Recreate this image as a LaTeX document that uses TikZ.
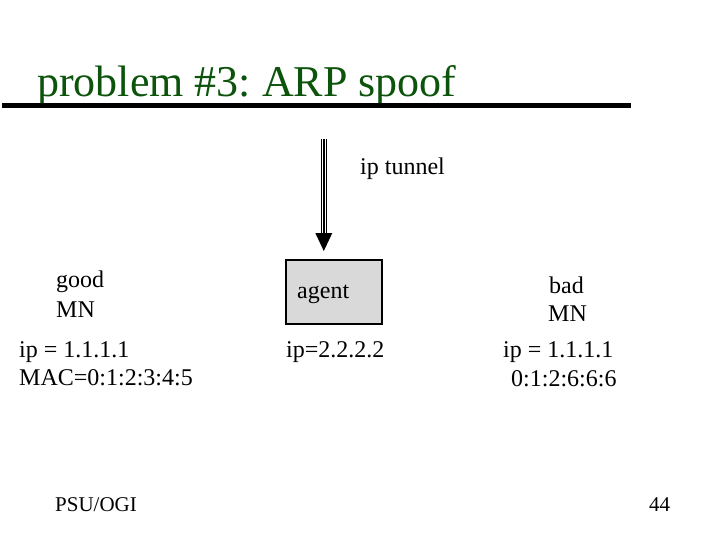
\documentclass[tikz,border=0pt]{standalone}
\usepackage{fontspec}
\setmainfont{Liberation Serif}
\frenchspacing
\definecolor{titlegreen}{RGB}{12,84,12}
\definecolor{boxgray}{RGB}{217,217,217}
\tikzset{
  txt/.style={anchor=base west,inner sep=0pt,font=\fontsize{24}{28}\selectfont},
  small/.style={anchor=base west,inner sep=0pt,font=\fontsize{21}{24}\selectfont},
  agentbox/.style={draw,line width=2pt,fill=boxgray,minimum width=96pt,minimum height=64pt,inner sep=0pt},
  shaft/.style={line width=1.4pt}
}
\begin{document}
\begin{tikzpicture}[x=1pt,y=-1pt]
\useasboundingbox (0,0) rectangle (720,540);
% title
\node[anchor=base west,inner sep=0pt,text=titlegreen,font=\fontsize{44}{48}\selectfont] (title) at (37,97) {problem \#3: ARP spoof};
\coordinate (ruleL) at (2,106);
\coordinate (ruleR) at (631,106);
\draw[line width=5pt] (ruleL) -- (ruleR);
% agent box
\node[agentbox] (agent) at (334,291.5) {};
\node[txt] (agentlbl) at (297,298) {agent};
% ip tunnel arrow
\coordinate (tunTop) at (323.8,139);
\coordinate (tunHead) at (323.8,233);
\coordinate (tunTip) at (323.8,251);
\draw[shaft] ([xshift=-2.6pt]tunTop) -- ([xshift=-2.6pt]tunHead);
\draw[shaft] (tunTop) -- (tunHead);
\draw[shaft] ([xshift=2.6pt]tunTop) -- ([xshift=2.6pt]tunHead);
\fill ([xshift=-8.5pt]tunHead) -- ([xshift=8.5pt]tunHead) -- (tunTip) -- cycle;
\node[txt] (tunlbl) at (360,175) {ip tunnel};
% good MN
\node[txt] (good1) at (56,287) {good};
\node[txt] (good2) at (56,317) {MN};
\node[txt] (goodip) at (19,357) {ip = 1.1.1.1};
\node[txt] (goodmac) at (19,385.5) {MAC=0:1:2:3:4:5};
% agent ip
\node[txt] (agentip) at (286,357) {ip=2.2.2.2};
% bad MN
\node[txt] (bad1) at (549,293) {bad};
\node[txt] (bad2) at (548,321.5) {MN};
\node[txt] (badip) at (503,357.5) {ip = 1.1.1.1};
\node[txt] (badmac) at (511,386) {0:1:2:6:6:6};
% footer
\node[small] (psu) at (55,511) {PSU/OGI};
\node[small] (page) at (649,511) {44};
\end{tikzpicture}
\end{document}
